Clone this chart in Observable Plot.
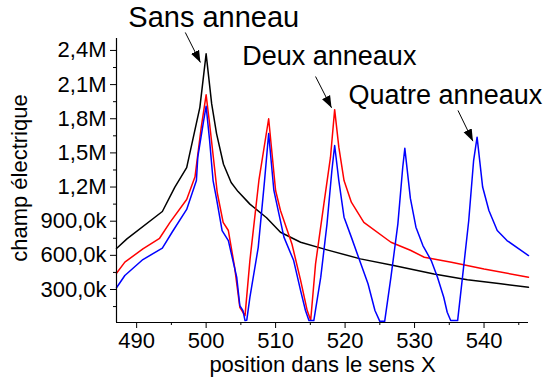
<!DOCTYPE html>
<html><head><meta charset="utf-8">
<script src="https://cdn.jsdelivr.net/npm/d3@7"></script>
<script src="https://cdn.jsdelivr.net/npm/@observablehq/plot@0.6"></script>
<style>html,body{margin:0;padding:0;background:#fff;}</style>
</head><body><div id="chart"></div>
<script>
// ---- data (values in V/m, x in position units) ----
const seriesNames = ["Sans anneau", "Deux anneaux", "Quatre anneaux"];
const seriesColors = ["#000000", "#ff0000", "#0000ff"];

const xSans = [487.1, 488.6, 493.7, 495.5, 497.2, 499.1, 500.0, 500.8, 501.5, 502.5, 503.6, 504.6, 506.3, 508.7, 510.7, 513.6, 517.4, 522.2, 527.0, 532.8, 537.6, 542.4, 546.4];
const ySans = [660e3, 745e3, 985e3, 1200e3, 1370e3, 1900e3, 2370e3, 1930e3, 1670e3, 1400e3, 1240e3, 1160e3, 1050e3, 930e3, 803e3, 715e3, 648e3, 569e3, 510e3, 437e3, 385e3, 350e3, 320e3];

const xDeux = [487.1, 488.3, 490.9, 493.3, 494.8, 497.2, 498.4, 499.3, 500.0, 500.5, 501.2, 501.6, 502.45, 503.2, 504.1, 504.85, 505.6, 506.3, 507.6, 509.0, 510.0, 510.7, 512.35, 513.6, 514.55, 515.05, 515.75, 516.95, 517.9, 518.5, 519.1, 519.85, 520.9, 522.7, 526.6, 529.4, 531.4, 535.3, 540.0, 546.4];
const yDeux = [443e3, 540e3, 657e3, 750e3, 890e3, 1090e3, 1290e3, 1726e3, 2010e3, 1756e3, 1374e3, 1150e3, 890e3, 818e3, 496e3, 144e3, 70e3, 554e3, 1260e3, 1800e3, 1170e3, 994e3, 700e3, 380e3, 115e3, 30e3, 525e3, 1053e3, 1462e3, 1880e3, 1550e3, 1257e3, 1067e3, 890e3, 715e3, 645e3, 583e3, 540e3, 480e3, 408e3];

const xQuatre = [487.1, 488.3, 490.9, 493.7, 495.1, 497.2, 498.6, 498.8, 499.65, 500.0, 500.5, 501.0, 501.5, 502.3, 503.2, 504.4, 504.85, 505.3, 505.6, 505.85, 506.3, 507.5, 508.4, 509.0, 509.75, 511.2, 512.6, 513.6, 514.3, 514.8, 515.5, 516.5, 517.4, 518.1, 518.5, 519.1, 519.85, 520.9, 522.1, 523.3, 524.3, 525.0, 525.7, 526.6, 527.6, 528.3, 528.6, 529.4, 530.2, 531.2, 532.4, 533.3, 534.2, 534.7, 535.2, 536.2, 536.9, 537.8, 538.5, 539.0, 539.8, 540.7, 541.9, 543.3, 546.4];
const yQuatre = [315e3, 423e3, 563e3, 663e3, 803e3, 1003e3, 1257e3, 1462e3, 1785e3, 1910e3, 1610e3, 1257e3, 1097e3, 818e3, 730e3, 408e3, 159e3, 115e3, 27e3, 30e3, 230e3, 670e3, 1250e3, 1670e3, 1170e3, 760e3, 554e3, 290e3, 115e3, 27e3, 27e3, 408e3, 877e3, 1345e3, 1565e3, 1257e3, 935e3, 760e3, 554e3, 350e3, 115e3, 20e3, 20e3, 408e3, 877e3, 1374e3, 1540e3, 1100e3, 847e3, 686e3, 554e3, 408e3, 232e3, 100e3, 27e3, 27e3, 408e3, 906e3, 1433e3, 1638e3, 1200e3, 994e3, 818e3, 730e3, 598e3];

const xTicks = [490, 500, 510, 520, 530, 540];
const xMinorTicks = [495, 505, 515, 525, 535, 545];
const yTicks = [300e3, 600e3, 900e3, 1200e3, 1500e3, 1800e3, 2100e3, 2400e3];
const yTickLabels = ["300,0k", "600,0k", "900,0k", "1,2M", "1,5M", "1,8M", "2,1M", "2,4M"];
const yMinorTicks = [150e3, 450e3, 750e3, 1050e3, 1350e3, 1650e3, 1950e3, 2250e3];
const xLabel = "position dans le sens X";
const yLabel = "champ électrique";

// annotations (data coordinates): label anchor and arrow from/to
const annotLabels = ["Sans anneau", "Deux anneaux", "Quatre anneaux"];
const annotTextX = [488.8, 505.2, 520.5];
const annotTextY = [2690e3, 2344e3, 2005e3];
const arrowX1 = [497.0, 515.75, 536.25];
const arrowY1 = [2558e3, 2171e3, 1873e3];
const arrowX2 = [499.18, 518.05, 538.4];
const arrowY2 = [2294e3, 1896e3, 1603e3];
// axis-title anchors (data coordinates)
const yTitleAt = {x: 473.2, y: 1279e3};

// ---- build table ----
const rows = [];
[[xSans, ySans], [xDeux, yDeux], [xQuatre, yQuatre]].forEach(([xs, ys], s) => {
  xs.forEach((x, i) => rows.push({x, y: ys[i], series: seriesNames[s]}));
});
const yLabelMap = new Map(yTicks.map((t, i) => [t, yTickLabels[i]]));

function filledArrow(color, context) {
  const doc = (context && context.document) || document;
  const ns = "http://www.w3.org/2000/svg";
  const m = doc.createElementNS(ns, "marker");
  m.setAttribute("viewBox", "-12 -5 12 10");
  m.setAttribute("markerWidth", 12);
  m.setAttribute("markerHeight", 10);
  m.setAttribute("markerUnits", "userSpaceOnUse");
  m.setAttribute("refX", 0);
  m.setAttribute("refY", 0);
  m.setAttribute("orient", "auto");
  const p = doc.createElementNS(ns, "path");
  p.setAttribute("d", "M-12,-4.5L0,0L-12,4.5Z");
  p.setAttribute("fill", color);
  p.setAttribute("stroke", "none");
  m.appendChild(p);
  return m;
}

const font = "'Liberation Sans', Arial, sans-serif";
const idx = [0, 1, 2];

const chart = Plot.plot({
  width: 546,
  height: 380,
  marginTop: 38,
  marginBottom: 58,
  marginLeft: 116,
  marginRight: 18,
  x: {domain: [487.1, 546.4], label: null},
  y: {domain: [10e3, 2505e3], label: null},
  color: {domain: seriesNames, range: seriesColors},
  style: {fontFamily: font, fontSize: "22px", background: "#fff", overflow: "visible", color: "#000"},
  marks: [
    Plot.line(rows, {x: "x", y: "y", z: "series", stroke: "series", strokeWidth: 1.5}),
    Plot.ruleX([487.1], {stroke: "#000", strokeWidth: 1.2}),
    Plot.ruleY([10e3], {stroke: "#000", strokeWidth: 1.2}),
    Plot.axisX(xTicks, {tickSize: 6, tickPadding: 4, fontSize: 22, label: null, tickFormat: d => String(d)}),
    Plot.axisX(xMinorTicks, {tickSize: 3, fill: "none", label: null}),
    Plot.axisY(yTicks, {tickSize: 6, tickPadding: 4, fontSize: 22, label: null, tickFormat: d => yLabelMap.get(d)}),
    Plot.axisY(yMinorTicks, {tickSize: 3, fill: "none", label: null}),
    Plot.text([xLabel], {frameAnchor: "bottom", text: d => d, textAnchor: "middle", lineAnchor: "middle", dy: 42, fontSize: 22}),
    Plot.text([yLabel], {x: () => yTitleAt.x, y: () => yTitleAt.y, text: d => d, rotate: -90, textAnchor: "middle", lineAnchor: "middle", fontSize: 22}),
    Plot.text([0], {x: i => annotTextX[i], y: i => annotTextY[i], text: i => annotLabels[i], textAnchor: "start", lineAnchor: "middle", fontSize: 29}),
    Plot.text([1, 2], {x: i => annotTextX[i], y: i => annotTextY[i], text: i => annotLabels[i], textAnchor: "start", lineAnchor: "middle", fontSize: 27}),
    Plot.link(idx, {x1: i => arrowX1[i], y1: i => arrowY1[i], x2: i => arrowX2[i], y2: i => arrowY2[i], stroke: "#000", strokeWidth: 1, markerEnd: filledArrow})
  ]
});
document.getElementById("chart").appendChild(chart);
</script>
</body></html>
